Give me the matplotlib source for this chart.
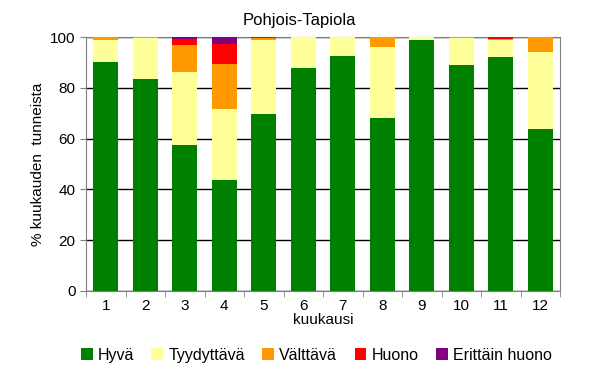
import numpy as np
import matplotlib
matplotlib.use('Agg')
import matplotlib.pyplot as plt

plt.rcParams['font.family'] = ['Liberation Sans', 'DejaVu Sans']

# data (% of hours per class)
months = [str(m) for m in range(1, 13)]
hyva = [90, 83.5, 57.5, 43.7, 69.7, 87.8, 92.5, 68.1, 98.8, 89, 92.1, 63.8]
tyydyttava = [9, 16.2, 28.7, 27.9, 29.3, 12.2, 7.5, 28, 1.2, 10.7, 6.9, 30.3]
valttava = [1, 0.3, 10.7, 17.9, 0.7, 0, 0, 3.9, 0, 0.3, 0.3, 5.9]
huono = [0, 0, 2.3, 7.7, 0.3, 0, 0, 0, 0, 0, 0.7, 0]
erittain_huono = [0, 0, 0.8, 2.8, 0, 0, 0, 0, 0, 0, 0, 0]

series = [
    ('Hyvä', hyva, '#008000'),
    ('Tyydyttävä', tyydyttava, '#FFFF99'),
    ('Välttävä', valttava, '#FF9900'),
    ('Huono', huono, '#FF0000'),
    ('Erittäin huono', erittain_huono, '#800080'),
]

fig = plt.figure(figsize=(5.92, 3.88), dpi=100)
ax = fig.add_axes([0.1453, 0.25, 0.8007, 0.6546])

x = np.arange(len(months))
bottom = np.zeros(len(months))
for name, vals, col in series:
    vals = np.array(vals, dtype=float)
    ax.bar(x, vals, 0.63, bottom=bottom, color=col, label=name, zorder=3)
    bottom += vals

ax.set_xlim(-0.5, len(months) - 0.5)
ax.set_ylim(0, 100)
ax.set_yticks(range(0, 101, 20))
ax.set_xticks(x)
ax.set_xticklabels(months)
ax.set_xticks(np.arange(-0.5, len(months), 1), minor=True)
ax.tick_params(axis='x', which='major', length=0, labelsize=11, pad=6)
ax.tick_params(axis='x', which='minor', length=4, color='#808080')
ax.tick_params(axis='y', length=4, color='#808080', labelsize=11)

# horizontal gridlines behind the bars
ax.yaxis.grid(True, color='black', linewidth=1, zorder=0)
ax.set_axisbelow(True)
for s in ax.spines.values():
    s.set_color('#808080')

# title is centred on the figure, not on the axes
fig.text(0.506, 0.947, 'Pohjois-Tapiola', fontsize=12, ha='center', va='center')
ax.set_xlabel('kuukausi', fontsize=11, labelpad=0)
ax.set_ylabel('% kuukauden  tunneista', fontsize=11)

leg = fig.legend(loc='center', bbox_to_anchor=(0.534, 0.085), ncol=5, frameon=False,
                 fontsize=11.5, handlelength=0.75, handleheight=0.75, handletextpad=0.3,
                 columnspacing=1.1)

fig.savefig('out.png', dpi=100)
